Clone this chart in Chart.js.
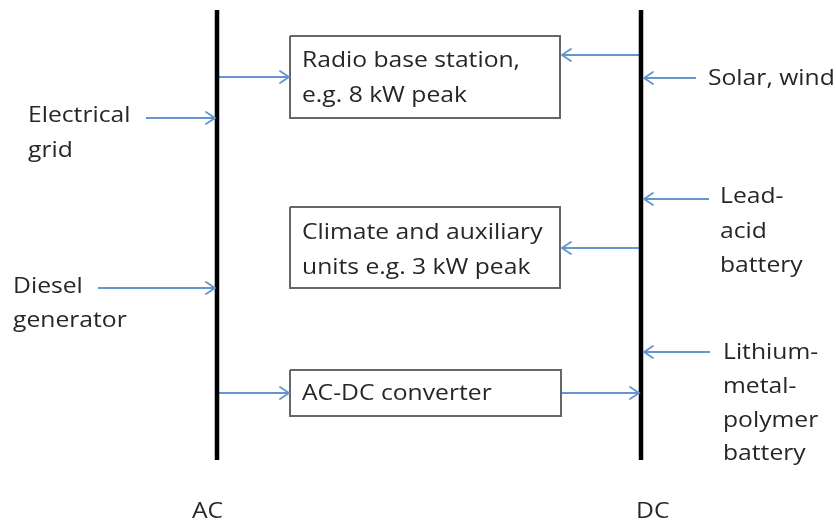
<!DOCTYPE html>
<html>
<head>
<meta charset="utf-8">
<script src="https://cdn.jsdelivr.net/npm/chart.js@4"></script>
<style>
  html, body { margin: 0; padding: 0; background: #ffffff; }
  #wrap { width: 836px; height: 526px; position: relative; }
</style>
</head>
<body>
<div id="wrap"><canvas id="c"></canvas></div>
<script>
// ---- Diagram data (in diagram units) ----
const busNames = ["AC", "DC"];
const busX = [217, 641];
const busTop = [10, 10];
const busBottom = [460, 460];

const boxNames = ["Radio base station", "Climate and auxiliary units", "AC-DC converter"];
const boxLeft = [290, 290, 290];
const boxRight = [560, 560, 561];
const boxTop = [36, 207, 370];
const boxBottom = [118, 288, 416];

// arrows: from (fromX, y) to (toX, y)
const arrowFromX = [219, 146, 98, 219, 561, 640, 696, 709, 640, 710];
const arrowToX   = [289, 215, 215, 289, 639, 562, 644, 644, 562, 644];
const arrowY     = [77, 118, 288, 393, 393, 55, 78, 199, 248, 352];

// text labels (each line separately)
const labelText = [
  "Radio base station,", "e.g. 8 kW peak",
  "Climate and auxiliary", "units e.g. 3 kW peak",
  "AC-DC converter",
  "Electrical", "grid",
  "Diesel", "generator",
  "Solar, wind",
  "Lead-", "acid", "battery",
  "Lithium-", "metal-", "polymer", "battery",
  "AC", "DC"
];
const labelX = [302, 302, 302, 302, 302, 28, 28, 13, 13, 708, 720, 720, 720, 723, 723, 723, 723, 192, 636];
const labelY = [61, 96, 233, 268, 394, 116, 151, 287, 321, 79, 197, 232, 266, 353, 387, 421, 454, 512, 512];

// ---- Build datasets ----
const datasets = [];
busX.forEach((x, i) => {
  datasets.push({
    label: busNames[i],
    data: [{x: x, y: busTop[i]}, {x: x, y: busBottom[i]}],
    borderColor: "#000000", borderWidth: 4.5, pointRadius: 0, showLine: true,
    borderCapStyle: "butt"
  });
});
boxLeft.forEach((l, i) => {
  const r = boxRight[i], t = boxTop[i], b = boxBottom[i];
  datasets.push({
    label: boxNames[i],
    data: [{x: l, y: t}, {x: r, y: t}, {x: r, y: b}, {x: l, y: b}, {x: l, y: t}],
    borderColor: "#666666", borderWidth: 2, pointRadius: 0, showLine: true,
    borderJoinStyle: "miter", fill: false
  });
});
arrowY.forEach((y, i) => {
  datasets.push({
    label: "arrow" + i,
    data: [{x: arrowFromX[i], y: y}, {x: arrowToX[i], y: y}],
    borderColor: "#6594cf", borderWidth: 1.8, pointRadius: 0, showLine: true
  });
});

const arrowHeads = {
  id: "arrowHeads",
  afterDatasetsDraw(chart) {
    const ctx = chart.ctx;
    const xs = chart.scales.x, ys = chart.scales.y;
    ctx.save();
    ctx.strokeStyle = "#6594cf";
    ctx.lineWidth = 1.8;
    ctx.lineCap = "round";
    arrowY.forEach((y, i) => {
      const tx = xs.getPixelForValue(arrowToX[i]);
      const fx = xs.getPixelForValue(arrowFromX[i]);
      const py = ys.getPixelForValue(y);
      const dir = tx > fx ? 1 : -1;
      const len = 9, half = 6;
      ctx.beginPath();
      ctx.moveTo(tx - dir * len, py - half);
      ctx.lineTo(tx, py);
      ctx.lineTo(tx - dir * len, py + half);
      ctx.stroke();
    });
    ctx.restore();
  }
};

const labels = {
  id: "labels",
  afterDraw(chart) {
    const ctx = chart.ctx;
    const xs = chart.scales.x, ys = chart.scales.y;
    ctx.save();
    ctx.fillStyle = "#262626";
    ctx.font = "22px 'Open Sans', Lato, sans-serif";
    ctx.textAlign = "left";
    ctx.textBaseline = "middle";
    // fit reference width of first label (~218 units)
    const w = ctx.measureText(labelText[0]).width;
    const sx = 218 / w;
    labelText.forEach((t, i) => {
      const px = xs.getPixelForValue(labelX[i]);
      const py = ys.getPixelForValue(labelY[i]);
      ctx.save();
      ctx.translate(px, py);
      ctx.scale(sx, 1);
      ctx.fillText(t, 0, 0);
      ctx.restore();
    });
    ctx.restore();
  }
};

new Chart(document.getElementById("c"), {
  type: "scatter",
  data: { datasets },
  options: {
    responsive: true,
    maintainAspectRatio: false,
    animation: false,
    layout: { padding: 0 },
    plugins: { legend: { display: false }, tooltip: { enabled: false } },
    scales: {
      x: { type: "linear", min: 0, max: 836, display: false },
      y: { type: "linear", min: 0, max: 526, reverse: true, display: false }
    }
  },
  plugins: [arrowHeads, labels]
});
</script>
</body>
</html>
